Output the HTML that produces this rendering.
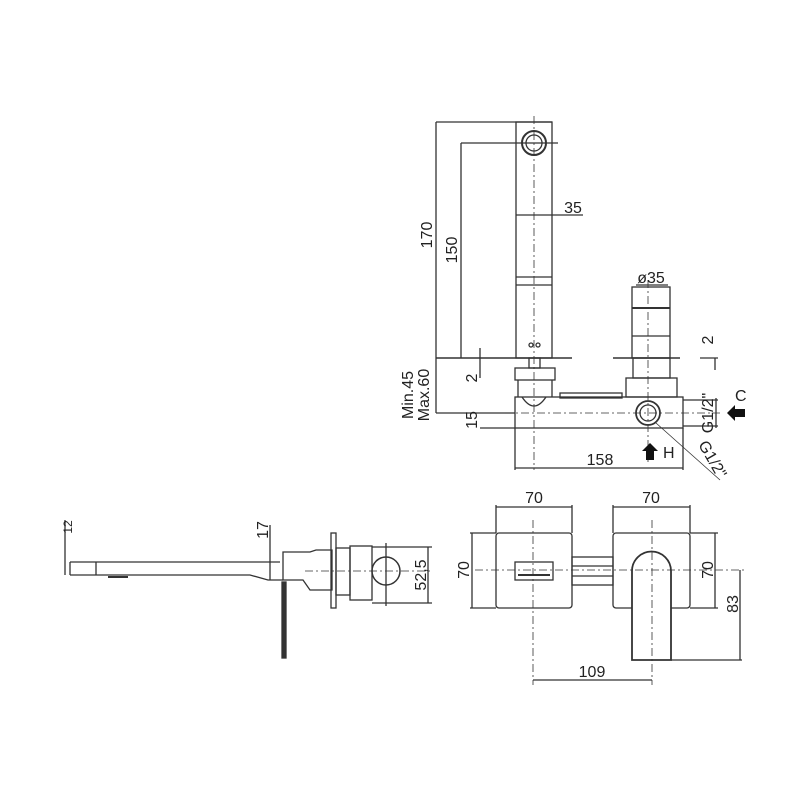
<!DOCTYPE html>
<html><head><meta charset="utf-8"><style>
html,body{margin:0;padding:0;background:#fff;}
svg{display:block;}
text{font-family:"Liberation Sans","DejaVu Sans",sans-serif;fill:#222;}
</style></head><body>
<svg width="800" height="800" viewBox="0 0 800 800" xmlns="http://www.w3.org/2000/svg">
<g fill="none" stroke="#333" stroke-width="1.3">
<line x1="436" y1="122" x2="552" y2="122"/>
<line x1="436" y1="122" x2="436" y2="413"/>
<line x1="436" y1="413" x2="515" y2="413"/>
<line x1="461" y1="143" x2="558" y2="143"/>
<line x1="461" y1="143" x2="461" y2="358"/>
<rect x="516" y="122" width="36" height="236"/>
<line x1="516" y1="277" x2="552" y2="277"/>
<line x1="516" y1="285" x2="552" y2="285"/>
<circle cx="534" cy="143" r="12" stroke-width="2"/>
<circle cx="534" cy="143" r="8"/>
<line x1="534" y1="116" x2="534" y2="470" stroke-dasharray="8,3,2,3" stroke-width="0.8"/>
<line x1="516" y1="215" x2="583" y2="215"/>
<circle cx="531" cy="345" r="2"/><circle cx="538" cy="345" r="2"/>
<line x1="436" y1="358" x2="572" y2="358" stroke-width="1.6"/>
<line x1="613" y1="358" x2="680" y2="358" stroke-width="1.6"/>
<line x1="480" y1="348" x2="480" y2="378"/>
<line x1="715" y1="358" x2="715" y2="370"/>
<line x1="700" y1="358" x2="718" y2="358"/>
<rect x="632" y="287" width="38" height="71"/>
<line x1="632" y1="308" x2="670" y2="308" stroke-width="2"/>
<line x1="632" y1="336" x2="670" y2="336"/>
<rect x="633" y="358" width="37" height="20"/>
<rect x="626" y="378" width="51" height="19"/>
<rect x="529" y="358" width="11" height="10"/>
<rect x="515" y="368" width="40" height="12"/>
<path d="M518 380 V397 M552 380 V397 M522 397 Q534 415 546 397"/>
<rect x="515" y="397" width="168" height="31"/>
<rect x="560" y="393" width="62" height="5"/>
<line x1="505" y1="413" x2="720" y2="413" stroke-dasharray="8,3,2,3" stroke-width="0.8"/>
<line x1="480" y1="428" x2="515" y2="428"/>
<circle cx="648" cy="413" r="12" stroke-width="1.8"/>
<circle cx="648" cy="413" r="8"/>
<line x1="648" y1="280" x2="648" y2="462" stroke-dasharray="8,3,2,3" stroke-width="0.8"/>
<line x1="683" y1="400" x2="718" y2="400"/>
<line x1="683" y1="426" x2="718" y2="426"/>
<line x1="716" y1="398" x2="716" y2="428"/>
<line x1="656" y1="423" x2="720" y2="480" stroke-width="0.8"/>
<line x1="515" y1="428" x2="515" y2="470"/>
<line x1="683" y1="428" x2="683" y2="470"/>
<line x1="515" y1="468" x2="683" y2="468"/>
<line x1="636" y1="285" x2="668" y2="285"/>

<line x1="65" y1="520" x2="65" y2="575"/>
<path d="M70 562 H280 M70 575 H250 L268 580 H283"/>
<line x1="70" y1="562" x2="70" y2="575"/>
<line x1="96" y1="562" x2="96" y2="575"/>
<line x1="108" y1="577" x2="128" y2="577" stroke-width="2"/>
<line x1="270" y1="525" x2="270" y2="580"/>
<path d="M283 552 H310 L316 550 H332 V590 H310 L303 580 H283 Z"/>
<rect x="282" y="582" width="4" height="76" fill="#333"/>
<rect x="331" y="533" width="5" height="75"/>
<rect x="336" y="548" width="14" height="47"/>
<rect x="350" y="546" width="22" height="54"/>
<line x1="305" y1="571" x2="430" y2="571" stroke-dasharray="8,3,2,3" stroke-width="0.8"/>
<circle cx="386" cy="571" r="14" stroke-width="1.5"/>
<line x1="386" y1="543" x2="386" y2="606"/>
<line x1="372" y1="547" x2="432" y2="547"/>
<line x1="372" y1="603" x2="432" y2="603"/>
<line x1="428" y1="547" x2="428" y2="603"/>

<rect x="496" y="533" width="76" height="75" rx="3"/>
<rect x="613" y="533" width="77" height="75" rx="3"/>
<rect x="572" y="557" width="41" height="28"/>
<line x1="572" y1="566" x2="613" y2="566"/><line x1="572" y1="576" x2="613" y2="576"/>
<rect x="515" y="562" width="38" height="18"/>
<line x1="518" y1="575" x2="550" y2="575" stroke-width="2"/>
<path d="M632 660 V571 A19.5 19.5 0 0 1 671 571 V660 Z" fill="#fff" stroke-width="1.8"/>
<line x1="475" y1="570" x2="745" y2="570" stroke-dasharray="8,3,2,3" stroke-width="0.8"/>
<line x1="533" y1="520" x2="533" y2="685" stroke-dasharray="8,3,2,3" stroke-width="0.8"/>
<line x1="652" y1="520" x2="652" y2="685" stroke-dasharray="8,3,2,3" stroke-width="0.8"/>
<line x1="496" y1="507" x2="572" y2="507"/><line x1="496" y1="505" x2="496" y2="533"/><line x1="572" y1="505" x2="572" y2="533"/>
<line x1="613" y1="507" x2="690" y2="507"/><line x1="613" y1="505" x2="613" y2="533"/><line x1="690" y1="505" x2="690" y2="533"/>
<line x1="470" y1="533" x2="496" y2="533"/><line x1="470" y1="608" x2="496" y2="608"/><line x1="472" y1="533" x2="472" y2="608"/>
<line x1="690" y1="533" x2="718" y2="533"/><line x1="690" y1="608" x2="718" y2="608"/><line x1="715" y1="533" x2="715" y2="608"/>
<line x1="671" y1="660" x2="742" y2="660"/><line x1="740" y1="570" x2="740" y2="660"/>
<line x1="533" y1="680" x2="652" y2="680"/>
</g>
<path d="M727 413 L735 405 V409 H745 V417 H735 V421 Z" fill="#111"/>
<path d="M650 443 L658 451 H654 V460 H646 V451 H642 Z" fill="#111"/>
<g font-size="16">
<text x="573" y="213" text-anchor="middle">35</text>
<text x="651" y="283" text-anchor="middle">ø35</text>
<text x="600" y="465" text-anchor="middle">158</text>
<text x="663" y="458">H</text>
<text x="735" y="401">C</text>
<text transform="translate(432,235) rotate(-90)" text-anchor="middle">170</text>
<text transform="translate(457,250) rotate(-90)" text-anchor="middle">150</text>
<text transform="translate(413,395) rotate(-90)" text-anchor="middle">Min.45</text>
<text transform="translate(429,395) rotate(-90)" text-anchor="middle">Max.60</text>
<text transform="translate(477,378) rotate(-90)" text-anchor="middle">2</text>
<text transform="translate(477,420) rotate(-90)" text-anchor="middle">15</text>
<text transform="translate(713,340) rotate(-90)" text-anchor="middle">2</text>
<text transform="translate(713,413) rotate(-90)" text-anchor="middle">G1/2"</text>
<text transform="translate(708,462) rotate(60)" text-anchor="middle">G1/2"</text>
<text transform="translate(268,530) rotate(-90)" text-anchor="middle">17</text>
<text transform="translate(72,527) rotate(-90)" text-anchor="middle" font-size="12">12</text>
<text transform="translate(426,575) rotate(-90)" text-anchor="middle">52,5</text>
<text x="534" y="503" text-anchor="middle">70</text>
<text x="651" y="503" text-anchor="middle">70</text>
<text transform="translate(469,570) rotate(-90)" text-anchor="middle">70</text>
<text transform="translate(713,570) rotate(-90)" text-anchor="middle">70</text>
<text transform="translate(738,604) rotate(-90)" text-anchor="middle">83</text>
<text x="592" y="677" text-anchor="middle">109</text>
</g>
</svg>
</body></html>
